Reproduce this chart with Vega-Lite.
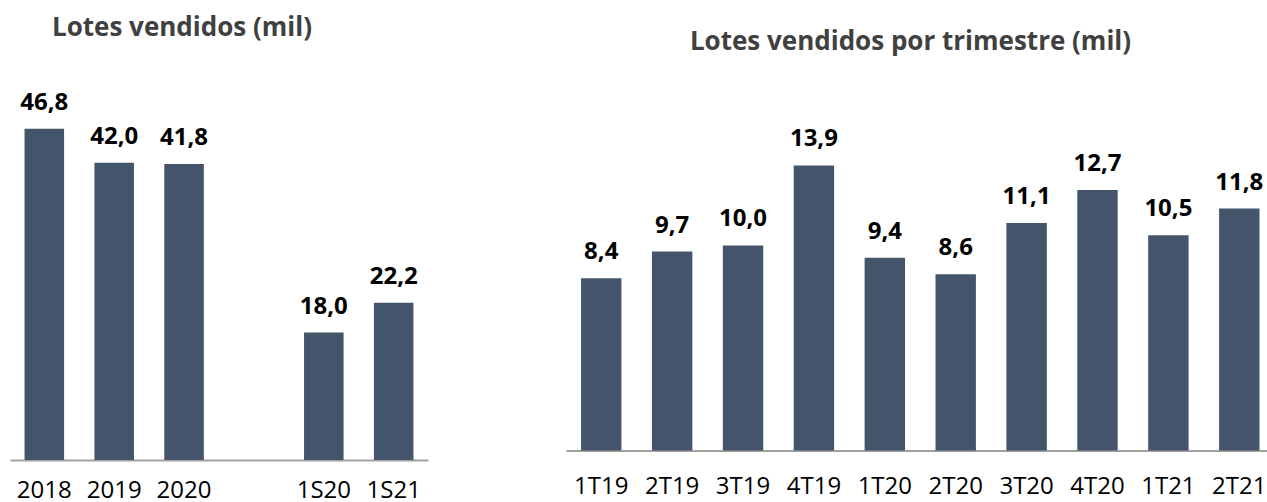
{
  "$schema": "https://vega.github.io/schema/vega-lite/v6.json",
  "background": "white",
  "padding": {"left": 10, "top": 14, "right": 0, "bottom": 0},
  "spacing": 138,
  "bounds": "flush",
  "config": {
    "view": {"stroke": null},
    "font": "Open Sans",
    "locale": {"number": {"decimal": ",", "thousands": ".", "grouping": [3], "currency": ["R$", ""]}},
    "axis": {
      "domainColor": "#A0A0A0",
      "domainWidth": 2,
      "ticks": false,
      "tickSize": 0,
      "grid": false,
      "labelAngle": 0,
      "labelFont": "Open Sans",
      "labelFontSize": 24,
      "labelColor": "#000000",
      "labelBaseline": "alphabetic",
      "labelPadding": 43,
      "title": null
    },
    "title": {"font": "Open Sans", "fontSize": 26, "fontWeight": "bold", "color": "#404040", "baseline": "alphabetic", "frame": "group"}
  },
  "hconcat": [
    {
      "title": {"text": "Lotes vendidos (mil)", "anchor": "start", "dx": 42, "offset": 50},
      "width": 418,
      "height": 354,
      "data": {"values": [
        {"periodo": "2018", "lotes": 46.8},
        {"periodo": "2019", "lotes": 42.0},
        {"periodo": "2020", "lotes": 41.8},
        {"periodo": "1S20", "lotes": 18.0},
        {"periodo": "1S21", "lotes": 22.2}
      ]},
      "encoding": {
        "x": {"field": "periodo", "type": "nominal", "sort": null,
              "scale": {"domain": ["2018", "2019", "2020", " ", "1S20", "1S21"], "paddingInner": 0.434, "paddingOuter": 0.208},
              "axis": {"labelPadding": 37}},
        "y": {"field": "lotes", "type": "quantitative", "scale": {"domain": [0, 50]}, "axis": null}
      },
      "layer": [
        {"mark": {"type": "bar", "color": "#44546A"}},
        {"mark": {"type": "text", "dy": -19, "baseline": "alphabetic", "fontWeight": "bold", "fontSize": 24, "color": "#000000"},
         "encoding": {"text": {"field": "lotes", "type": "quantitative", "format": ".1f"}}}
      ]
    },
    {
      "title": {"text": "Lotes vendidos por trimestre (mil)", "anchor": "middle", "dx": -6, "offset": 51},
      "width": 701,
      "height": 344.5,
      "data": {"values": [
        {"trimestre": "1T19", "lotes": 8.4},
        {"trimestre": "2T19", "lotes": 9.7},
        {"trimestre": "3T19", "lotes": 10.0},
        {"trimestre": "4T19", "lotes": 13.9},
        {"trimestre": "1T20", "lotes": 9.4},
        {"trimestre": "2T20", "lotes": 8.6},
        {"trimestre": "3T20", "lotes": 11.1},
        {"trimestre": "4T20", "lotes": 12.7},
        {"trimestre": "1T21", "lotes": 10.5},
        {"trimestre": "2T21", "lotes": 11.8}
      ]},
      "encoding": {
        "x": {"field": "trimestre", "type": "nominal", "sort": null,
              "scale": {"paddingInner": 0.43, "paddingOuter": 0.159, "align": 0.667}},
        "y": {"field": "lotes", "type": "quantitative", "scale": {"domain": [0, 16.8]}, "axis": null}
      },
      "layer": [
        {"mark": {"type": "bar", "color": "#44546A"}},
        {"mark": {"type": "text", "dy": -19, "baseline": "alphabetic", "fontWeight": "bold", "fontSize": 24, "color": "#000000"},
         "encoding": {"text": {"field": "lotes", "type": "quantitative", "format": ".1f"}}}
      ]
    }
  ]
}
